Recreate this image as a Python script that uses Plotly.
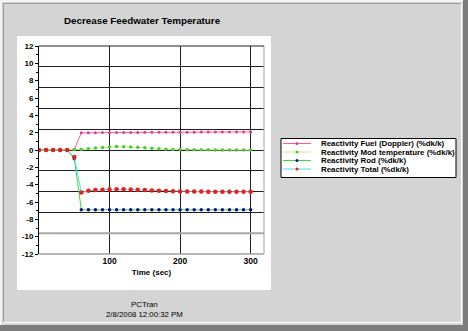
import plotly.graph_objects as go

# ---- data -------------------------------------------------------------
time_s = [0, 10, 20, 30, 40, 50, 60, 70, 80, 90, 100, 110, 120, 130, 140, 150,
          160, 170, 180, 190, 200, 210, 220, 230, 240, 250, 260, 270, 280, 290, 300]

fuel_doppler = [0, 0, 0, 0, 0, 0.05, 1.98, 2.0, 2.0, 2.01, 2.01, 2.02, 2.02, 2.03,
                2.03, 2.04, 2.04, 2.05, 2.05, 2.05, 2.06, 2.06, 2.06, 2.07, 2.07,
                2.07, 2.08, 2.08, 2.08, 2.09, 2.09]

mod_temperature = [0, 0, 0, 0, 0, 0.05, 0.06, 0.14, 0.22, 0.3, 0.36, 0.39, 0.38,
                   0.35, 0.31, 0.26, 0.2, 0.15, 0.1, 0.07, 0.05, 0.04, 0.03, 0.02,
                   0.02, 0.01, 0.01, 0.01, 0.0, 0.0, 0.0]

rod = [0, 0, 0, 0, 0, -1.0, -6.9, -6.9, -6.9, -6.9, -6.9, -6.9, -6.9, -6.9, -6.9,
       -6.9, -6.9, -6.9, -6.9, -6.9, -6.9, -6.9, -6.9, -6.9, -6.9, -6.9, -6.9,
       -6.9, -6.9, -6.9, -6.9]

total = [0, 0, 0, 0, 0, -0.8, -4.9, -4.7, -4.62, -4.58, -4.55, -4.52, -4.52, -4.55,
         -4.58, -4.62, -4.66, -4.7, -4.73, -4.76, -4.78, -4.79, -4.8, -4.8, -4.81,
         -4.81, -4.81, -4.82, -4.82, -4.82, -4.82]

series_names = ["Reactivity Fuel (Doppler) (%dk/k)",
                "Reactivity Mod temperature (%dk/k)",
                "Reactivity Rod (%dk/k)",
                "Reactivity Total (%dk/k)"]

y_tick_labels = [-12, -10, -8, -6, -4, -2, 0, 2, 4, 6, 8, 10, 12]
y_grid_values = [-12, -9.6, -7.2, -4.8, -2.4, 0, 2.4, 4.8, 7.2, 9.6, 12]
x_tick_values = [100, 200, 300]

# ---- styling ----------------------------------------------------------
W, H = 468, 331
ML, MR, MT, MB = 39, 204, 46, 77
PW, PH = W - ML - MR, H - MT - MB
FONT = "Liberation Sans, Arial, sans-serif"
BG = "#d4d4d4"

line_colors = ["#ff5aa0", "#c8ec84", "#3cdc3c", "#50dcec"]
marker_colors = ["#e23c8c", "#4cc83c", "#10108c", "#ee1c1c"]
marker_sizes = [3, 3.5, 3.5, 4.5]


def px_x(px):
    return (px - ML) / PW


def px_y(py):
    return (MT + PH - py) / PH


fig = go.Figure()

series = [fuel_doppler, mod_temperature, rod, total]
for name, vals, lc, mc, ms in zip(series_names, series, line_colors,
                                  marker_colors, marker_sizes):
    fig.add_trace(go.Scatter(
        x=time_s, y=vals, name=name, mode="lines+markers",
        line=dict(color=lc, width=1),
        marker=dict(color=mc, size=ms, line=dict(width=0)),
        showlegend=False,
    ))

# invisible trace to carry the labelled overlay axis
fig.add_trace(go.Scatter(x=[time_s[0]], y=[0], yaxis="y2", mode="markers",
                         marker=dict(opacity=0), showlegend=False,
                         hoverinfo="skip"))

shapes = []

# window frame
shapes.append(dict(type="rect", xref="paper", yref="paper", layer="below",
                   x0=px_x(0), x1=px_x(W), y0=px_y(H), y1=px_y(0),
                   fillcolor=BG, line=dict(width=0)))
shapes.append(dict(type="rect", xref="paper", yref="paper", layer="below",
                   x0=px_x(463), x1=px_x(W), y0=px_y(H), y1=px_y(0),
                   fillcolor="#7c7c7c", line=dict(width=0)))
shapes.append(dict(type="rect", xref="paper", yref="paper", layer="below",
                   x0=px_x(0), x1=px_x(W), y0=px_y(H), y1=px_y(325),
                   fillcolor="#7c7c7c", line=dict(width=0)))
shapes.append(dict(type="rect", xref="paper", yref="paper", layer="below",
                   x0=px_x(0), x1=px_x(2), y0=px_y(325), y1=px_y(0),
                   fillcolor="#f4f4f4", line=dict(width=0)))
shapes.append(dict(type="rect", xref="paper", yref="paper", layer="below",
                   x0=px_x(0), x1=px_x(463), y0=px_y(2), y1=px_y(0),
                   fillcolor="#f4f4f4", line=dict(width=0)))
shapes.append(dict(type="line", xref="paper", yref="paper", layer="below",
                   x0=px_x(3.5), x1=px_x(3.5), y0=px_y(322), y1=px_y(3),
                   line=dict(color="#9c9c9c", width=1)))
shapes.append(dict(type="line", xref="paper", yref="paper", layer="below",
                   x0=px_x(3), x1=px_x(461), y0=px_y(3.5), y1=px_y(3.5),
                   line=dict(color="#9c9c9c", width=1)))
shapes.append(dict(type="line", xref="paper", yref="paper", layer="below",
                   x0=px_x(461.5), x1=px_x(461.5), y0=px_y(323), y1=px_y(3),
                   line=dict(color="#ffffff", width=1)))
shapes.append(dict(type="line", xref="paper", yref="paper", layer="below",
                   x0=px_x(3), x1=px_x(462), y0=px_y(322.5), y1=px_y(322.5),
                   line=dict(color="#ffffff", width=1)))

# white chart panel
shapes.append(dict(type="rect", xref="paper", yref="paper", layer="below",
                   x0=px_x(17), x1=px_x(271), y0=px_y(290), y1=px_y(36),
                   fillcolor="#ffffff", line=dict(width=0)))

# plot frame: dark top/left, grey right/bottom
shapes.append(dict(type="line", xref="paper", yref="paper",
                   x0=1, x1=1, y0=0, y1=1, line=dict(color="#a0a0a0", width=1)))
shapes.append(dict(type="line", xref="paper", yref="paper",
                   x0=0, x1=1, y0=0, y1=0, line=dict(color="#a0a0a0", width=1.5)))
shapes.append(dict(type="line", xref="paper", yref="paper",
                   x0=0, x1=1, y0=1, y1=1, line=dict(color="#202020", width=1)))
# heavier grey grid line near the bottom
shapes.append(dict(type="line", xref="paper", yref="y",
                   x0=0, x1=1, y0=y_grid_values[1], y1=y_grid_values[1],
                   line=dict(color="#a8a8a8", width=2)))

# legend box
LX0, LX1, LY0, LY1 = 281, 456, 138.5, 177.5
shapes.append(dict(type="rect", xref="paper", yref="paper",
                   x0=px_x(LX0), x1=px_x(LX1), y0=px_y(LY1), y1=px_y(LY0),
                   fillcolor="#ffffff", line=dict(color="#000000", width=1)))

annotations = []
row_y = [143.5, 152, 160.5, 169]
for name, lc, mc, ry in zip(series_names, line_colors, marker_colors, row_y):
    shapes.append(dict(type="line", xref="paper", yref="paper",
                       x0=px_x(283), x1=px_x(311), y0=px_y(ry), y1=px_y(ry),
                       line=dict(color=lc, width=1)))
    shapes.append(dict(type="circle", xref="paper", yref="paper",
                       x0=px_x(295.5), x1=px_x(298.5),
                       y0=px_y(ry + 1.5), y1=px_y(ry - 1.5),
                       fillcolor=mc, line=dict(width=0)))
    annotations.append(dict(xref="paper", yref="paper", x=px_x(319), y=px_y(ry),
                            xanchor="left", yanchor="middle", showarrow=False,
                            text="<b>%s</b>" % name,
                            font=dict(family=FONT, size=7.9, color="#000000")))

# title and footer
annotations.append(dict(xref="paper", yref="paper", x=px_x(142.5), y=px_y(20),
                        xanchor="center", yanchor="middle", showarrow=False,
                        text="<b>Decrease Feedwater Temperature</b>",
                        font=dict(family=FONT, size=9.8, color="#000000")))
annotations.append(dict(xref="paper", yref="paper", x=px_x(144), y=px_y(309.5),
                        xanchor="center", yanchor="middle", showarrow=False,
                        align="center",
                        text="PCTran<br>2/8/2008 12:00:32 PM",
                        font=dict(family=FONT, size=7.8, color="#000000")))

fig.update_layout(
    width=W, height=H,
    margin=dict(l=ML, r=MR, t=MT, b=MB, pad=0),
    paper_bgcolor=BG, plot_bgcolor="#ffffff",
    showlegend=False,
    font=dict(family=FONT, size=8, color="#000000"),
    xaxis=dict(
        range=[0, 319], tickvals=x_tick_values,
        ticktext=["<b>%d</b>" % v for v in x_tick_values],
        showgrid=True, gridcolor="#202020", gridwidth=1,
        zeroline=False, showline=False, ticks="",
        tickfont=dict(family=FONT, size=8.5, color="#000000"),
        title=dict(text="<b>Time (sec)</b>", standoff=4,
                   font=dict(family=FONT, size=8, color="#000000")),
    ),
    yaxis=dict(
        range=[-12, 12], tickvals=y_grid_values, showticklabels=False,
        showgrid=True, gridcolor="#202020", gridwidth=1,
        zeroline=False, showline=False, ticks="",
    ),
    yaxis2=dict(
        range=[-12, 12], overlaying="y", side="left",
        tickvals=y_tick_labels,
        ticktext=["<b>%d</b>" % v for v in y_tick_labels],
        showgrid=False, zeroline=False,
        showline=True, linecolor="#000000", linewidth=1,
        ticks="outside", ticklen=3, tickcolor="#000000", tickwidth=1,
        minor=dict(dtick=1, tick0=0, ticks="outside", ticklen=2,
                   tickcolor="#000000"),
        tickfont=dict(family=FONT, size=8, color="#000000"),
    ),
    shapes=shapes,
    annotations=annotations,
)

fig.write_html("out.html")
